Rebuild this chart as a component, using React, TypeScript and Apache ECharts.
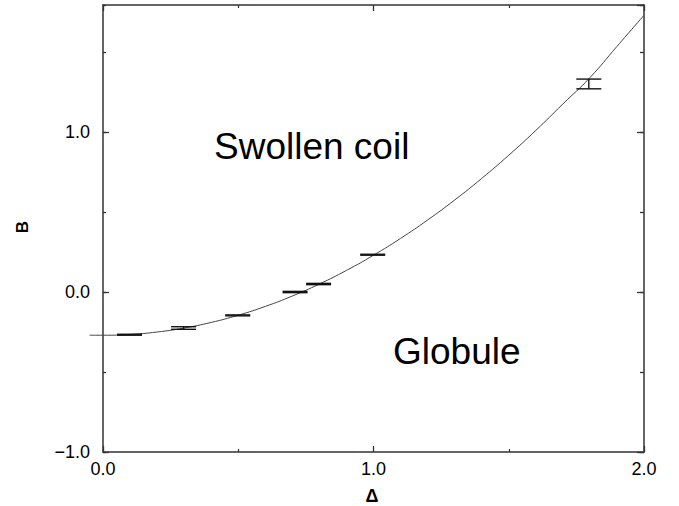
import React, { useEffect, useRef } from "react";
import * as echarts from "echarts";

// Phase boundary B(Δ) between the swollen coil and the globule
const curveDelta = [-0.05, 0, 0.1, 0.2, 0.3, 0.4, 0.5, 0.6, 0.7, 0.8, 0.9, 1.0, 1.1, 1.2, 1.3, 1.4, 1.5, 1.6, 1.7, 1.8, 1.9, 2.0];
const curveB = [-0.27, -0.27, -0.265, -0.25, -0.225, -0.19, -0.145, -0.09, -0.025, 0.05, 0.135, 0.23, 0.335, 0.45, 0.575, 0.71, 0.855, 1.01, 1.175, 1.34, 1.535, 1.73];

// Simulation estimates with error bars
const pointDelta = [0.098, 0.298, 0.498, 0.71, 0.797, 0.997, 1.796];
const pointLow = [-0.27, -0.233, -0.149, -0.004, 0.046, 0.23, 1.27];
const pointHigh = [-0.264, -0.217, -0.143, 0.004, 0.054, 0.236, 1.331];

const xLabels = ["0.0", "1.0", "2.0"];
const yLabels = ["\u22121.0", "0.0", "1.0"];

const X_MIN = 0;
const X_MAX = 2;
const CURVE_X_MIN = -0.05;
const Y_MIN = -1;
const Y_MAX = 1.794;

const GRID_LEFT = 103;
const GRID_RIGHT = 35;
const GRID_TOP = 5;
const GRID_BOTTOM = 54;
const PLOT_W = 679 - GRID_LEFT - GRID_RIGHT;

const AXIS_COLOR = "#333";
const FONT = "'Liberation Sans', Arial, Helvetica, sans-serif";

export default function App() {
  const ref = useRef<HTMLDivElement>(null);

  useEffect(() => {
    if (!ref.current) return;
    const chart = echarts.init(ref.current, undefined, { renderer: "svg" });

    const xLabel = (v: number) => {
      const i = [0, 1, 2].findIndex((t) => Math.abs(t - v) < 1e-6);
      return i >= 0 ? xLabels[i] : "";
    };
    const yLabel = (v: number) => {
      const i = [-1, 0, 1].findIndex((t) => Math.abs(t - v) < 1e-6);
      return i >= 0 ? yLabels[i] : "";
    };

    const baseX = {
      type: "value" as const,
      gridIndex: 0,
      min: X_MIN,
      max: X_MAX,
      interval: 1,
      splitLine: { show: false },
      axisLine: { show: true, onZero: false, lineStyle: { color: AXIS_COLOR, width: 1.5 } },
      axisTick: { show: true, inside: true, length: 6, lineStyle: { color: AXIS_COLOR, width: 1.3 } },
      minorTick: { show: true, splitNumber: 2, length: 3, lineStyle: { color: AXIS_COLOR, width: 1.2 } },
      minorSplitLine: { show: false },
    };

    const yAxis = (position: "left" | "right", interval: number, len: number, withLine: boolean, withLabel: boolean) => ({
      type: "value" as const,
      gridIndex: 0,
      position,
      min: Y_MIN,
      max: Y_MAX,
      interval,
      splitLine: { show: false },
      axisLine: { show: withLine, onZero: false, lineStyle: { color: AXIS_COLOR, width: 1.5 } },
      axisTick: { show: true, inside: true, length: len, lineStyle: { color: AXIS_COLOR, width: 1.3 } },
      axisLabel: {
        show: withLabel,
        formatter: yLabel,
        margin: 13,
        color: "#000",
        fontSize: 18,
        fontFamily: FONT,
        showMaxLabel: false,
      },
    });

    // The fitted curve starts slightly left of Δ = 0, so it lives on a wider hidden grid
    const curveGridLeft = GRID_LEFT + (CURVE_X_MIN / (X_MAX - X_MIN)) * PLOT_W;

    chart.setOption({
      animation: false,
      backgroundColor: "#fff",
      grid: [
        { left: GRID_LEFT, right: GRID_RIGHT, top: GRID_TOP, bottom: GRID_BOTTOM, containLabel: false },
        { left: curveGridLeft, right: GRID_RIGHT, top: GRID_TOP, bottom: GRID_BOTTOM, containLabel: false },
      ],
      xAxis: [
        {
          ...baseX,
          position: "bottom",
          axisLabel: { formatter: xLabel, margin: 8, color: "#000", fontSize: 18, fontFamily: FONT },
        },
        { ...baseX, position: "top", axisLabel: { show: false } },
        { type: "value", gridIndex: 1, min: CURVE_X_MIN, max: X_MAX, show: false },
      ],
      yAxis: [
        yAxis("left", 1, 6, true, true),
        yAxis("left", 0.5, 3, false, false),
        yAxis("right", 1, 7, true, false),
        yAxis("right", 0.5, 4, false, false),
        { type: "value", gridIndex: 1, min: Y_MIN, max: Y_MAX, show: false },
      ],
      series: [
        {
          type: "line",
          xAxisIndex: 2,
          yAxisIndex: 4,
          data: curveDelta.map((d, i) => [d, curveB[i]]),
          smooth: true,
          showSymbol: false,
          lineStyle: { color: "#444", width: 1 },
          z: 2,
        },
        {
          type: "custom",
          xAxisIndex: 0,
          yAxisIndex: 0,
          data: pointDelta.map((d, i) => [d, pointLow[i], pointHigh[i]]),
          renderItem: (_params: any, api: any) => {
            const x = api.value(0);
            const lo = api.coord([x, api.value(1)]);
            const hi = api.coord([x, api.value(2)]);
            const hw = 12.5;
            const style = { stroke: "#111", lineWidth: 1.4 };
            return {
              type: "group",
              children: [
                { type: "line", shape: { x1: lo[0] - hw, y1: lo[1], x2: lo[0] + hw, y2: lo[1] }, style },
                { type: "line", shape: { x1: hi[0] - hw, y1: hi[1], x2: hi[0] + hw, y2: hi[1] }, style },
                { type: "line", shape: { x1: lo[0], y1: lo[1], x2: hi[0], y2: hi[1] }, style },
              ],
            };
          },
          z: 3,
        },
      ],
      graphic: [
        {
          type: "text",
          x: 214,
          y: 146,
          style: { text: "Swollen coil", fontSize: 37, fontFamily: FONT, fill: "#000", verticalAlign: "middle", align: "left" },
        },
        {
          type: "text",
          x: 393,
          y: 351,
          style: { text: "Globule", fontSize: 37, fontFamily: FONT, fill: "#000", verticalAlign: "middle", align: "left" },
        },
        {
          type: "text",
          x: 22,
          y: 227,
          rotation: Math.PI / 2,
          style: { text: "B", fontSize: 17, fontWeight: "bold", fontFamily: FONT, fill: "#000", align: "center", verticalAlign: "middle" },
        },
        {
          type: "text",
          x: 372,
          y: 496,
          style: { text: "\u0394", fontSize: 18, fontWeight: "bold", fontFamily: FONT, fill: "#000", align: "center", verticalAlign: "middle" },
        },
      ],
    });

    return () => chart.dispose();
  }, []);

  return <div ref={ref} style={{ width: 679, height: 506, position: "absolute", left: 0, top: 0 }} />;
}
